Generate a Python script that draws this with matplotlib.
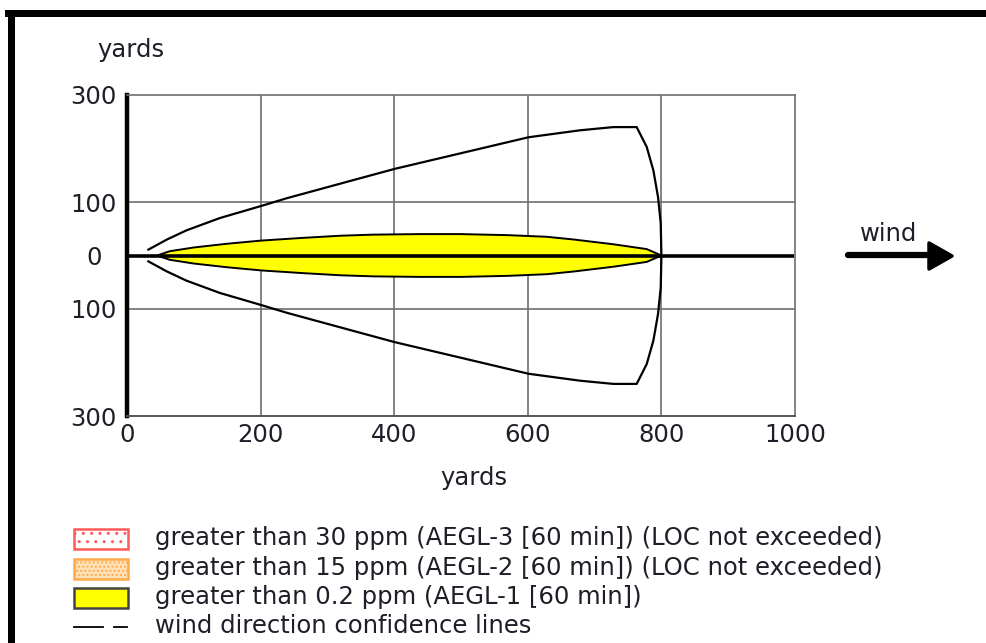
import matplotlib
matplotlib.use("Agg")
import matplotlib.pyplot as plt
from matplotlib.patches import Rectangle, Polygon
from matplotlib.lines import Line2D

# AEGL-1 threat zone: downwind distance (yards) and crosswind half-width (yards)
zone_x = [45, 64, 100, 150, 202, 264, 320, 369, 439, 500, 571, 628, 668, 728, 778, 800]
zone_half = [0, 8, 15, 22, 28, 33, 37, 39, 40, 40, 38, 35, 30, 21, 12, 0]

# wind direction confidence line, upper branch (lower branch is its mirror image)
conf_x = [32, 60, 89, 139, 202, 239, 289, 339, 401, 479, 601, 678, 728, 763, 778, 788, 795, 799, 800]
conf_y = [11, 30, 47, 70, 93, 107, 124, 141, 162, 185, 221, 234, 240, 240, 203, 159, 109, 60, 0]

# downwind centre line
center_x = [0, 998]

x_ticks = [0, 200, 400, 600, 800, 1000]
x_tick_labels = ["0", "200", "400", "600", "800", "1000"]
y_ticks = [300, 100, 0, -100, -300]
y_tick_labels = ["300", "100", "0", "100", "300"]

legend_labels = [
    "greater than 30 ppm (AEGL-3 [60 min]) (LOC not exceeded)",
    "greater than 15 ppm (AEGL-2 [60 min]) (LOC not exceeded)",
    "greater than 0.2 ppm (AEGL-1 [60 min])",
    "wind direction confidence lines",
]

W, H = 987, 643
TXT = "#1e1e28"
FS = 17.5

fig = plt.figure(figsize=(W / 100, H / 100), dpi=100)
fig.patch.set_facecolor("white")


def fx(px):
    return px / W


def fy(py):
    return 1 - py / H


ax = fig.add_axes([fx(127), fy(416), (795 - 127) / W, (416 - 95) / H])
ax.set_xlim(0, 1000)
ax.set_ylim(-300, 300)

# grid
for gx in x_ticks[1:-1]:
    ax.axvline(gx, color="#6e6e6e", lw=1.2, zorder=1)
for gy in [100, -100]:
    ax.axhline(gy, color="#6e6e6e", lw=1.2, zorder=1)

# threat zone
upper = list(zip(zone_x, zone_half))
lower = [(x, -h) for x, h in zip(zone_x[::-1], zone_half[::-1])]
ax.add_patch(Polygon(upper + lower, closed=True, facecolor="#ffff00",
                     edgecolor="black", lw=1.4, zorder=3))

# confidence lines
ax.plot(conf_x, conf_y, color="black", lw=1.6, zorder=4)
ax.plot(conf_x, [-v for v in conf_y], color="black", lw=1.6, zorder=4)

# centre line
ax.plot(center_x, [0, 0], color="black", lw=2.6, zorder=5, solid_capstyle="butt")

for side in ["top", "right"]:
    ax.spines[side].set_color("#6e6e6e")
    ax.spines[side].set_linewidth(1.2)
ax.spines["bottom"].set_color("#555555")
ax.spines["bottom"].set_linewidth(1.4)
ax.spines["left"].set_color("black")
ax.spines["left"].set_linewidth(3.2)

ax.set_xticks(x_ticks)
ax.set_xticklabels(x_tick_labels)
ax.set_yticks(y_ticks)
ax.set_yticklabels(y_tick_labels)
ax.tick_params(axis="both", length=0, labelsize=FS, labelcolor=TXT)
ax.tick_params(axis="x", pad=5)
ax.tick_params(axis="y", pad=24)
for lab in ax.get_yticklabels():
    lab.set_horizontalalignment("center")

# axis titles
fig.text(fx(131), fy(50), "yards", ha="center", va="center", fontsize=FS, color=TXT)
fig.text(fx(474), fy(478), "yards", ha="center", va="center", fontsize=FS, color=TXT)

# wind arrow
fig.add_artist(Line2D([fx(848), fx(932)], [fy(255), fy(255)], color="black", lw=4.5,
                      solid_capstyle="round", transform=fig.transFigure))
fig.add_artist(Polygon([(fx(929), fy(243)), (fx(952), fy(256)), (fx(929), fy(269))],
                       closed=True, facecolor="black", edgecolor="black", lw=2.5,
                       joinstyle="round", transform=fig.transFigure))
fig.text(fx(889), fy(234), "wind", ha="center", va="center", fontsize=FS, color=TXT)

# outer frame
fig.add_artist(Rectangle((fx(5), fy(17)), fx(987 - 5), 7 / H, facecolor="black",
                         edgecolor="none", transform=fig.transFigure))
fig.add_artist(Rectangle((fx(8), 0), 7 / W, fy(10), facecolor="black",
                         edgecolor="none", transform=fig.transFigure))

# legend
rows = [539, 569, 598, 627]
plt.rcParams["hatch.linewidth"] = 1.0
swatches = [
    dict(facecolor="white", edgecolor="#ff5a5a", hatch=".."),
    dict(facecolor="#ffe2b8", edgecolor="#ffaa4a", hatch="...."),
    dict(facecolor="#ffff00", edgecolor="#444444", hatch=None),
]
for r, sw in zip(rows[:3], swatches):
    fig.add_artist(Rectangle((fx(74), fy(r + 10)), 54 / W, 20 / H, lw=1.8,
                             transform=fig.transFigure, **sw))
fig.add_artist(Line2D([fx(74), fx(103)], [fy(rows[3]), fy(rows[3])], color="black",
                      lw=1.3, transform=fig.transFigure))
fig.add_artist(Line2D([fx(114), fx(127)], [fy(rows[3]), fy(rows[3])], color="black",
                      lw=1.3, transform=fig.transFigure))
for r, t in zip(rows, legend_labels):
    fig.text(fx(155), fy(r - 1), t, ha="left", va="center", fontsize=FS, color=TXT)

fig.savefig("out.png", dpi=100, facecolor="white")
